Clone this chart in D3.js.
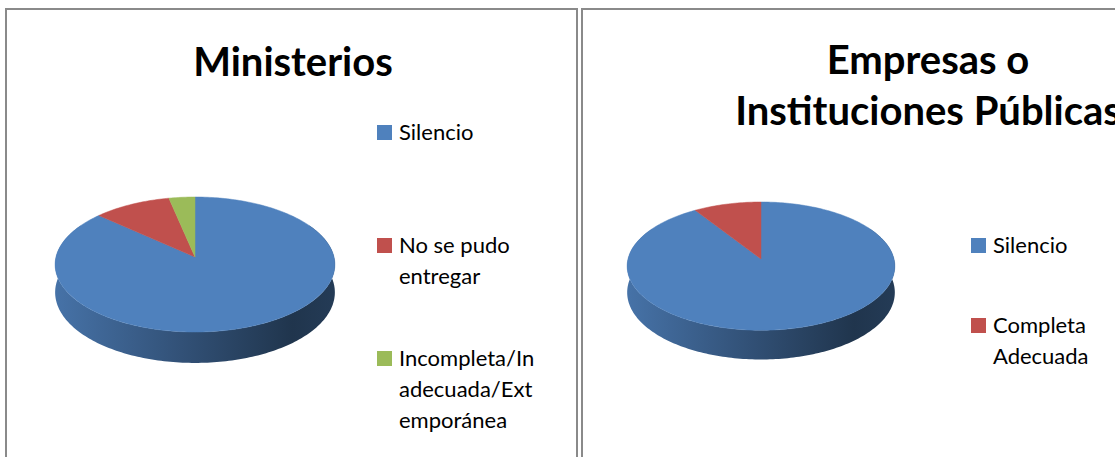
<!DOCTYPE html>
<html>
<head>
<meta charset="utf-8">
<style>
  body { margin: 0; background: #fff; }
  svg text { font-family: Lato, "Open Sans", sans-serif; fill: #000; }
</style>
</head>
<body>
<div id="chart"></div>
<script src="https://d3js.org/d3.v7.min.js"></script>
<script>
// data
var minCategories = ["Silencio", "No se pudo entregar", "Incompleta/Inadecuada/Extemporánea"];
var minValues = [26, 3, 1];
var minLegendLines = [["Silencio"], ["No se pudo", "entregar"], ["Incompleta/In", "adecuada/Ext", "emporánea"]];
var minTitle = ["Ministerios"];

var empCategories = ["Silencio", "Completa Adecuada"];
var empValues = [10, 1];
var empLegendLines = [["Silencio"], ["Completa", "Adecuada"]];
var empTitle = ["Empresas o", "Instituciones Públicas"];

var colors = ["#4F81BD", "#C0504D", "#9BBB59"];

var W = 1115, H = 457;
var D = 9; // perspective distance (in pie radii)

var svg = d3.select("#chart").append("svg")
  .attr("width", W)
  .attr("height", H);
var defs = svg.append("defs");

var panels = [
  { id: "min", cats: minCategories, vals: minValues, legend: minLegendLines, title: minTitle,
    x0: 6, x1: 577, titleX: 293, titleY: [76], cx: 195, cy: 257, rx: 139, back: 60, drop: 27.5,
    legX: 377, legY: [125, 238, 351] },
  { id: "emp", cats: empCategories, vals: empValues, legend: empLegendLines, title: empTitle,
    x0: 582, x1: 1170, titleX: 928, titleY: [74, 125], cx: 761, cy: 259, rx: 133, back: 57, drop: 26,
    legX: 971, legY: [238, 318] }
];

// project a point of the pie rim (angle clockwise from 12 o'clock) with a little perspective
function proj(p, a, down) {
  var X = Math.sin(a), Z = -Math.cos(a);
  var s = D / (D - Z);
  var ry = p.back * (D + 1) / D;
  return [p.cx + p.rx * X * s, p.cy + ry * Z * s + down * s];
}

function arcPts(p, a0, a1, down) {
  var n = Math.max(2, Math.ceil(Math.abs(a1 - a0) / 0.02));
  return d3.range(n + 1).map(function(i) { return proj(p, a0 + (a1 - a0) * i / n, down); });
}

var line = d3.line();

panels.forEach(function(p) {
  var g = svg.append("g");

  // chart frame
  g.append("rect")
    .attr("x", p.x0).attr("y", 9)
    .attr("width", p.x1 - p.x0).attr("height", H + 20)
    .attr("fill", "none")
    .attr("stroke", "#8a8a8a")
    .attr("stroke-width", 2);

  // title
  g.selectAll(".title").data(p.title).enter().append("text")
    .attr("class", "title")
    .attr("x", p.titleX)
    .attr("y", function(d, i) { return p.titleY[i]; })
    .attr("text-anchor", "middle")
    .style("font-size", "40px")
    .style("font-weight", "bold")
    .text(function(d) { return d; });

  var arcs = d3.pie().sort(null)(p.vals);

  // side gradients
  arcs.forEach(function(a, i) {
    var c = d3.color(colors[i]);
    var grad = defs.append("linearGradient")
      .attr("id", p.id + "side" + i)
      .attr("gradientUnits", "userSpaceOnUse")
      .attr("x1", p.cx - p.rx).attr("x2", p.cx + p.rx)
      .attr("y1", 0).attr("y2", 0);
    [[0, 0.35], [0.45, 1.3], [0.85, 2.5], [1, 2.2]].forEach(function(s) {
      grad.append("stop").attr("offset", s[0]).attr("stop-color", c.darker(s[1]).formatHex());
    });
  });

  // side walls (front part only)
  var lo = Math.PI / 3, hi = Math.PI * 5 / 3;
  arcs.forEach(function(a, i) {
    var s0 = Math.max(a.startAngle, lo), s1 = Math.min(a.endAngle, hi);
    if (s1 <= s0) return;
    var pts = arcPts(p, s0, s1, 0).concat(arcPts(p, s1, s0, p.drop));
    g.append("path")
      .attr("d", line(pts) + "Z")
      .attr("fill", "url(#" + p.id + "side" + i + ")");
  });

  // top faces
  arcs.forEach(function(a, i) {
    var pts = [[p.cx, p.cy]].concat(arcPts(p, a.startAngle, a.endAngle, 0));
    g.append("path")
      .attr("d", line(pts) + "Z")
      .attr("fill", colors[i])
      .attr("stroke", colors[i])
      .attr("stroke-width", 0.5);
  });

  // legend
  p.cats.forEach(function(c, i) {
    g.append("rect")
      .attr("x", p.legX).attr("y", p.legY[i])
      .attr("width", 15).attr("height", 15)
      .attr("fill", colors[i]);
    g.selectAll(".leg" + i).data(p.legend[i]).enter().append("text")
      .attr("x", p.legX + 22)
      .attr("y", function(d, j) { return p.legY[i] + 15 + j * 31; })
      .style("font-size", "22px")
      .text(function(d) { return d; });
  });
});
</script>
</body>
</html>
